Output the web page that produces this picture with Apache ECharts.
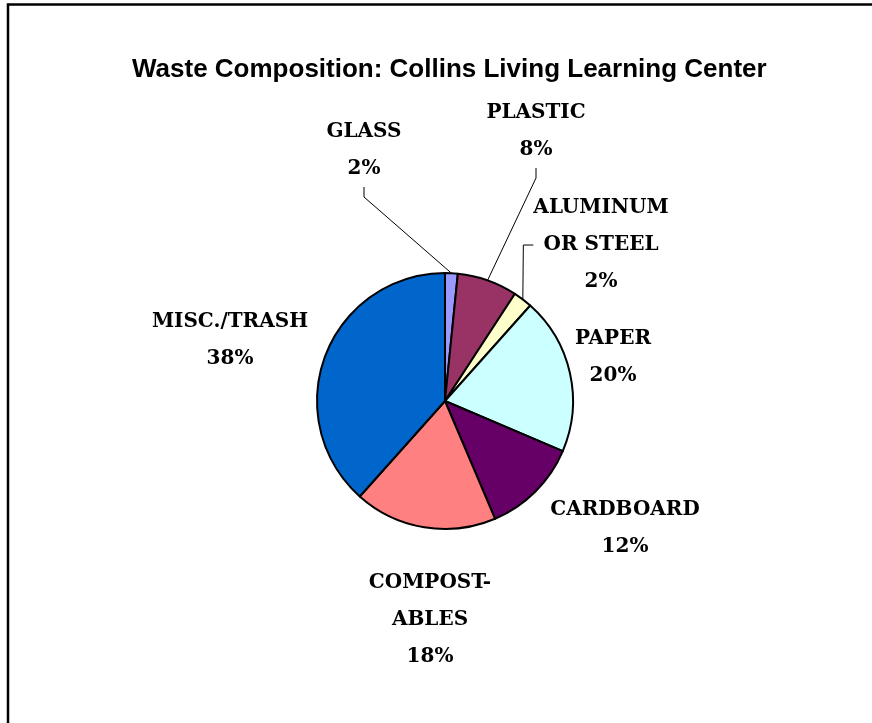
<!DOCTYPE html>
<html>
<head>
<meta charset="utf-8">
<title>Waste Composition</title>
<script src="https://cdn.jsdelivr.net/npm/echarts@6/dist/echarts.min.js"></script>
<style>
  html, body { margin: 0; padding: 0; background: #fff; }
  #chart { width: 872px; height: 723px; }
</style>
</head>
<body>
<div id="chart"></div>
<script>
// categories and shares (percent of total waste), clockwise from 12 o'clock
const categories = ['GLASS', 'PLASTIC', 'ALUMINUM\nOR STEEL', 'PAPER', 'CARDBOARD', 'COMPOST-\nABLES', 'MISC./TRASH'];
const shares = [1.6, 7.6, 2.4, 19.8, 12.2, 18.0, 38.4];
const colors = ['#9999FF', '#993366', '#FFFFCC', '#CCFFFF', '#660066', '#FF8080', '#0066CC'];
const withLeader = [true, true, true, false, false, false, false];

// where each label block sits, as offset from the pie centre
const labelSpots = [[-81, -251], [91, -270], [156, -156], [168, -44], [180, 127], [-15, 219], [-215, -61]];

const pieCenter = [445, 401];

const chart = echarts.init(document.getElementById('chart'));

const option = {
  animation: false,
  title: {
    text: 'Waste Composition: Collins Living Learning Center',
    left: 127,
    top: 52,
    textStyle: { fontFamily: 'Liberation Sans', fontWeight: 'bold', fontSize: 26, color: '#000' }
  },
  graphic: [{
    type: 'rect',
    shape: { x: 8, y: 4.5, width: 900, height: 800 },
    style: { fill: 'none', stroke: '#000', lineWidth: 2.5 },
    silent: true
  }],
  series: [{
    type: 'pie',
    center: pieCenter,
    radius: 128,
    startAngle: 90,
    clockwise: true,
    avoidLabelOverlap: false,
    itemStyle: { borderColor: '#000', borderWidth: 2 },
    label: {
      show: true,
      position: 'outside',
      fontFamily: 'DejaVu Serif',
      fontWeight: 'bold',
      fontSize: 20,
      lineHeight: 37,
      color: '#000',
      align: 'center',
      formatter: p => p.name + '\n' + Math.round(p.percent) + '%'
    },
    labelLine: { lineStyle: { color: '#000', width: 1 }, length: 10, length2: 10 },
    labelLayout: params => {
      const s = labelSpots[params.dataIndex];
      return {
        x: pieCenter[0] + s[0],
        y: pieCenter[1] + s[1],
        align: 'center',
        verticalAlign: 'middle'
      };
    },
    data: categories.map((c, i) => ({
      name: c,
      value: shares[i],
      itemStyle: { color: colors[i] },
      labelLine: { show: withLeader[i] }
    }))
  }]
};

chart.setOption(option);
</script>
</body>
</html>
